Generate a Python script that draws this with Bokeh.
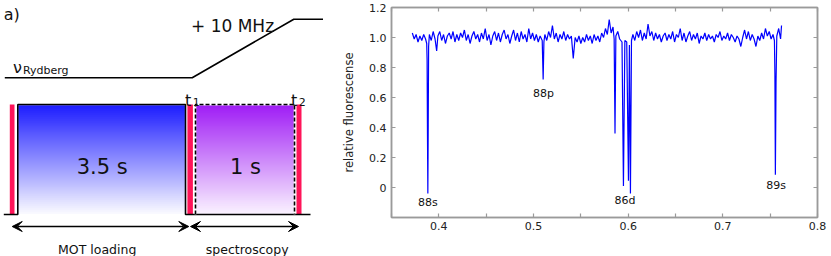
from bokeh.plotting import figure
from bokeh.models import (Range1d, LinearAxis, FixedTicker, Label, Arrow, VeeHead,
                          PrintfTickFormatter)
from bokeh.layouts import row
from bokeh.embed import file_html
from bokeh.resources import INLINE
from bokeh.core.properties import value
import numpy as np

FONT = "DejaVu Sans"

# ---------------- panel b data ----------------
wavenumber = [
    0.372, 0.374, 0.376, 0.378, 0.380, 0.382, 0.384, 0.386, 0.3872, 0.3876, 0.3880, 0.3884, 0.3888, 0.3892,
    0.390, 0.392, 0.394, 0.396, 0.3977, 0.399, 0.401, 0.403, 0.405, 0.407, 0.409, 0.411, 0.413, 0.415,
    0.417, 0.419, 0.421, 0.423, 0.425, 0.427, 0.429, 0.431, 0.433, 0.435, 0.437, 0.439, 0.441, 0.443,
    0.445, 0.447, 0.449, 0.451, 0.453, 0.455, 0.457, 0.459, 0.461, 0.463, 0.465, 0.467, 0.469, 0.471,
    0.473, 0.475, 0.477, 0.479, 0.481, 0.483, 0.485, 0.487, 0.489, 0.491, 0.493, 0.495, 0.497, 0.499,
    0.501, 0.503, 0.505, 0.507, 0.5092, 0.5102, 0.5110, 0.512, 0.514, 0.516, 0.518, 0.520, 0.522, 0.524,
    0.526, 0.528, 0.530, 0.532, 0.534, 0.536, 0.538, 0.540, 0.542, 0.544, 0.546, 0.548, 0.550, 0.552,
    0.554, 0.556, 0.558, 0.560, 0.562, 0.564, 0.566, 0.568, 0.570, 0.572, 0.574, 0.576, 0.578, 0.580,
    0.582, 0.584, 0.5852, 0.5861, 0.5870, 0.589, 0.591, 0.5935, 0.5950, 0.5965, 0.5985, 0.6003, 0.6013,
    0.6024, 0.6035, 0.605, 0.607, 0.609, 0.611, 0.613, 0.615, 0.617, 0.619, 0.621, 0.623, 0.625, 0.627,
    0.629, 0.631, 0.633, 0.635, 0.637, 0.639, 0.641, 0.643, 0.645, 0.647, 0.649, 0.651, 0.653, 0.655,
    0.657, 0.659, 0.661, 0.663, 0.665, 0.667, 0.669, 0.671, 0.673, 0.675, 0.677, 0.679, 0.681, 0.683,
    0.685, 0.687, 0.689, 0.691, 0.693, 0.695, 0.697, 0.699, 0.701, 0.703, 0.705, 0.707, 0.709, 0.711,
    0.713, 0.715, 0.717, 0.719, 0.721, 0.723, 0.725, 0.727, 0.729, 0.731, 0.733, 0.735, 0.737, 0.739,
    0.741, 0.743, 0.745, 0.747, 0.749, 0.751, 0.753, 0.7545, 0.7550, 0.7555, 0.7562, 0.757, 0.759,
    0.761, 0.762,
]
fluorescence = [
    1.03, 0.99, 1.02, 0.97, 1.01, 0.98, 1.02, 0.99, 0.96, 0.85, 0.35, -0.04, 0.42, 0.94,
    1.02, 0.98, 1.04, 0.99, 0.91, 1.01, 1.04, 0.98, 1.02, 0.96, 1.01, 1.03, 0.99, 1.04,
    0.97, 1.02, 0.98, 1.03, 1.00, 1.05, 0.98, 1.02, 0.96, 1.01, 1.04, 0.99, 1.02, 0.97,
    1.03, 0.99, 1.06, 0.98, 1.02, 0.95, 1.01, 1.04, 0.98, 1.03, 0.97, 1.02, 1.05, 0.99,
    1.02, 0.96, 1.01, 1.05, 0.98, 1.03, 0.97, 1.04, 0.99, 1.02, 0.97, 1.06, 0.99, 1.03,
    0.98, 1.02, 0.97, 1.01, 0.98, 0.72, 0.97, 1.02, 0.98, 1.04, 1.00, 1.08, 0.99, 1.03,
    0.97, 1.02, 0.99, 1.04, 0.98, 1.02, 0.99, 1.01, 0.86, 1.00, 0.97, 1.01, 0.96, 1.00,
    0.97, 1.02, 0.98, 1.01, 0.96, 1.02, 0.98, 1.01, 0.97, 1.03, 1.00, 1.06, 1.02, 1.12,
    1.03, 1.07, 0.99, 0.36, 1.01, 1.04, 0.99, 0.97, 0.01, 0.98, 0.97, 0.045, 0.95,
    -0.04, 0.98, 1.02, 0.98, 1.04, 1.00, 1.05, 0.98, 1.03, 0.99, 1.09, 1.01, 1.04, 0.98,
    1.03, 0.99, 1.02, 0.97, 1.01, 1.03, 0.98, 1.02, 0.99, 1.04, 0.97, 1.02, 1.00, 1.06,
    0.98, 1.03, 0.97, 1.01, 1.04, 0.98, 1.02, 0.99, 1.03, 0.96, 1.01, 0.99, 1.03, 0.98,
    1.02, 0.99, 1.01, 0.97, 1.02, 1.00, 1.04, 0.98, 1.01, 0.99, 1.03, 0.98, 1.02, 1.00,
    0.97, 1.01, 0.99, 0.94, 1.00, 1.05, 0.99, 1.04, 0.98, 1.02, 0.99, 0.94, 1.01, 0.98,
    1.03, 0.99, 1.06, 1.01, 1.04, 0.99, 1.02, 0.98, 0.76, 0.085, 0.70, 1.01, 1.06,
    0.99, 1.08,
]
x_ticks = [0.4, 0.5, 0.6, 0.7, 0.8]
x_minor_ticks = [0.35, 0.45, 0.55, 0.65, 0.75]
y_ticks = [0, 0.2, 0.4, 0.6, 0.8, 1.0, 1.2]
peak_names = ["88s", "88p", "86d", "89s"]
peak_x = [0.3885, 0.5106, 0.5966, 0.7563]
peak_y = [-0.10, 0.625, -0.089, 0.011]

# ---------------- panel a schematic (drawing units) ----------------
freq_x = [4.3, 191.7, 293.3, 323.0]
freq_y = [77.3, 77.3, 18.7, 18.7]
mot_outline_x = [3.3, 17.3, 17.3, 185.0, 185.0, 310.0]
mot_outline_y = [214.0, 214.0, 104.0, 104.0, 214.0, 214.0]
spec_outline_x = [195.0, 195.0, 294.0, 294.0]
spec_outline_y = [214.0, 104.0, 104.0, 214.0]
phase_left = [18.0, 195.7]
phase_right = [184.3, 293.3]
phase_top = 104.7
phase_bottom = 213.3
phase_top_colors = [(30, 30, 255), (160, 30, 245)]
phase_bottom_colors = [(250, 250, 255), (250, 242, 255)]
phase_durations = ["3.5 s", "1 s"]
phase_names = ["MOT loading", "spectroscopy"]
shutter_left = [9.3, 186.9, 296.0]
shutter_right = [14.0, 192.4, 301.0]

# ---------------- panel a ----------------
pa = figure(width=323, height=256, x_range=Range1d(0, 323), y_range=Range1d(256, 0),
            toolbar_location=None, output_backend="svg", x_axis_location=None,
            y_axis_location=None, min_border=0, outline_line_color=None,
            background_fill_color="white", border_fill_color="white")
pa.grid.visible = False

# gradient boxes as thin overlapping strips
for i in range(2):
    n = int(round(phase_bottom - phase_top))
    edges = np.linspace(phase_top, phase_bottom, n + 1)
    c0 = np.array(phase_top_colors[i], float)
    c1 = np.array(phase_bottom_colors[i], float)
    cols = []
    for k in range(n):
        t = (k + 0.5) / n
        c = c0 + (c1 - c0) * t
        cols.append("#%02x%02x%02x" % tuple(int(round(v)) for v in c))
    bottoms = [min(b + 0.8, phase_bottom) for b in edges[1:]]
    pa.quad(left=[phase_left[i]] * n, right=[phase_right[i]] * n,
            top=list(edges[:-1]), bottom=bottoms, fill_color=cols,
            line_color=None)

pa.quad(left=shutter_left, right=shutter_right, top=[104.0] * 3, bottom=[214.0] * 3,
        fill_color="#ff1459", line_color=None)

pa.line(freq_x, freq_y, line_color="black", line_width=1.6)
pa.line(mot_outline_x, mot_outline_y, line_color="black", line_width=1.6)
pa.line(spec_outline_x, spec_outline_y, line_color="white", line_width=1.6)
pa.line(spec_outline_x, spec_outline_y, line_color="black", line_width=1.6, line_dash="4 2")

for xs, xe in [(11.7, 188.3), (190.0, 298.0)]:
    pa.add_layout(Arrow(start=VeeHead(size=10, fill_color="black", line_color="black", line_width=1),
                        end=VeeHead(size=10, fill_color="black", line_color="black", line_width=1),
                        x_start=xs, y_start=226, x_end=xe, y_end=226,
                        line_color="black", line_width=1.6))

TC = "#111111"
pa.text(x=[3.3], y=[14.0], text=["a)"], text_font=value(FONT), text_font_size="16px",
        text_align="left", text_baseline="alphabetic", text_color=TC)
pa.text(x=[190.5], y=[25.0], text=["+ 10 MHz"], text_font=value(FONT), text_font_size="17px",
        text_align="left", text_baseline="alphabetic", text_color=TC)
pa.text(x=[12.5], y=[66.7], text=["ν"], text_font=value(FONT), text_font_size="16px",
        text_align="left", text_baseline="alphabetic", text_color=TC)
pa.text(x=[22.5], y=[70.3], text=["Rydberg"], text_font=value(FONT), text_font_size="11px",
        text_align="left", text_baseline="alphabetic", text_color=TC)
pa.text(x=[184.5, 290.5], y=[100.0, 100.0], text=["t", "t"], text_font=value(FONT),
        text_font_size="16px", text_align="left", text_baseline="alphabetic", text_color=TC)
pa.text(x=[192.3, 298.3], y=[101.5, 101.5], text=["1", "2"], text_font=value(FONT),
        text_font_size="11px", text_align="left", text_baseline="alphabetic", text_color=TC)
pa.text(x=[101.7, 245.0], y=[166.7, 166.7], text=phase_durations, text_font=value(FONT),
        text_font_size="21px", text_align="center", text_baseline="alphabetic", text_color=TC)
pa.text(x=[96.7, 246.7], y=[249.3, 249.3], text=phase_names, text_font=value(FONT),
        text_font_size="12.5px", text_align="center", text_baseline="alphabetic", text_color=TC)

# ---------------- panel b ----------------
AX = "#9a9a9a"
pb = figure(width=508, height=256, x_range=Range1d(0.35, 0.8), y_range=Range1d(-0.2, 1.2),
            toolbar_location=None, output_backend="svg", min_border_left=68,
            min_border_right=14, min_border_top=7, min_border_bottom=39,
            outline_line_color=AX, outline_line_width=1.5,
            background_fill_color="white", border_fill_color="white")
pb.grid.visible = False

for fig in (pa, pb):
    try:
        fig.frame_align = False
    except Exception:
        pass

pb.line(wavenumber, fluorescence, line_color="#0000ff", line_width=1.2)
pb.text(x=peak_x, y=peak_y, text=peak_names, text_font=value(FONT), text_font_size="11px",
        text_align="center", text_baseline="middle", text_color=TC)


def style_axis(ax, show_labels, ticks):
    ax.axis_line_color = AX
    ax.axis_line_width = 1.5
    ax.major_tick_line_color = AX
    ax.minor_tick_line_color = AX
    ax.major_tick_line_width = 1.2
    ax.minor_tick_line_width = 1.2
    ax.major_tick_in = 4
    ax.major_tick_out = 0
    ax.minor_tick_in = 4
    ax.minor_tick_out = 0
    ax.major_label_text_font = FONT
    ax.major_label_text_color = "#222222"
    if show_labels:
        ax.major_label_text_font_size = "11px"
    else:
        ax.major_label_overrides = {t: "" for t in ticks}
        ax.major_label_text_font_size = "0px"
        ax.major_label_standoff = 0


xt = FixedTicker(ticks=x_ticks, minor_ticks=x_minor_ticks)
yt = FixedTicker(ticks=y_ticks, minor_ticks=[])

xb = pb.xaxis[0]
xb.ticker = xt
xb.formatter = PrintfTickFormatter(format="%.1f")
style_axis(xb, True, x_ticks)
xb.major_label_standoff = 4

yl = pb.yaxis[0]
yl.ticker = yt
yl.formatter = PrintfTickFormatter(format="%.1f")
yl.major_label_overrides = {0: "0"}
style_axis(yl, True, y_ticks)
yl.axis_label = "relative fluorescense"
yl.axis_label_text_font = FONT
yl.axis_label_text_font_size = "11.5px"
yl.axis_label_text_font_style = "normal"
yl.axis_label_text_color = "#222222"
yl.axis_label_standoff = 10

xa = LinearAxis(ticker=xt)
style_axis(xa, False, x_ticks)
pb.add_layout(xa, "above")
yr = LinearAxis(ticker=yt)
style_axis(yr, False, y_ticks)
pb.add_layout(yr, "right")

pb.add_layout(Label(x=0.586, y=-0.402, text="relative wavenumber (cm⁻¹)", text_font=FONT,
                    text_font_size="11.5px", text_align="center", text_baseline="middle",
                    text_color="#222222"))
pb.add_layout(Label(x=0.2898, y=1.14, text="b)", text_font=FONT, text_font_size="16px",
                    text_align="left", text_baseline="alphabetic", text_color=TC))

layout = row(pa, pb)
open("out.html", "w").write(file_html(layout, INLINE))
